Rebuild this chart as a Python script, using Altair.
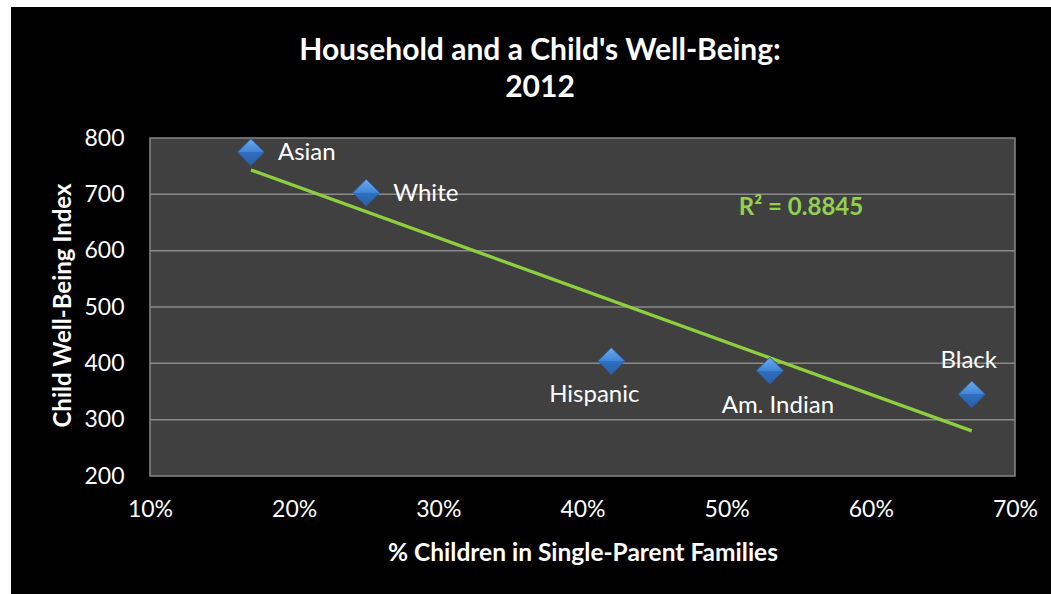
import altair as alt
import pandas as pd

# Data
groups = ["Asian", "White", "Hispanic", "Am. Indian", "Black"]
pct_single_parent = [0.17, 0.25, 0.42, 0.53, 0.67]
wellbeing_index = [775, 703, 404, 387, 345]
y_ticks = [200, 300, 400, 500, 600, 700, 800]
x_ticks = [0.1, 0.2, 0.3, 0.4, 0.5, 0.6, 0.7]
r2_text = "R² = 0.8845"
title_lines = ["Household and a Child's Well-Being:", "2012"]

df = pd.DataFrame({"group": groups, "pct": pct_single_parent, "idx": wellbeing_index})
grid_df = pd.DataFrame({"tick": y_ticks[1:-1]})

FONT = "Lato"
W, H = 865, 338
PAD_L, PAD_T = 150, 138

xscale = alt.Scale(domain=[0.1, 0.7], nice=False, zero=False)
yscale = alt.Scale(domain=[200, 800], nice=False, zero=False)

# background black panel (decorative)
black_bg = alt.Chart(pd.DataFrame({"a": [0]})).mark_rect(color="black").encode(
    x=alt.value(11 - PAD_L), x2=alt.value(1051 - PAD_L + 5),
    y=alt.value(7 - PAD_T), y2=alt.value(594 - PAD_T + 5),
)
plot_bg = alt.Chart(pd.DataFrame({"a": [0]})).mark_rect(
    color="#404040", stroke="#868686", strokeWidth=1.5
).encode(x=alt.value(0), x2=alt.value(W), y=alt.value(0), y2=alt.value(H))

grid = alt.Chart(grid_df).mark_rule(color="#8a8a8a", strokeWidth=1.5).encode(
    y=alt.Y("tick:Q", scale=yscale),
    x=alt.value(0), x2=alt.value(W),
)

base = alt.Chart(df)

axis_x = alt.Axis(
    values=x_ticks, format=".0%", grid=False, ticks=False, domain=False, zindex=2,
    labelFlush=False, labelOverlap=False,
    labelFont=FONT, labelFontSize=23, labelColor="white", labelPadding=22,
    title="% Children in Single-Parent Families", titleFont=FONT, titleFontSize=24.5,
    titleFontWeight="bold", titleColor="white", titleX=W / 2, titleY=77,
    titleAnchor="middle", titleBaseline="middle",
)
axis_y = alt.Axis(
    values=y_ticks, grid=False, ticks=False, domain=False, zindex=2,
    labelFlush=False, labelOverlap=False,
    labelFont=FONT, labelFontSize=23, labelColor="white", labelPadding=26,
    title="Child Well-Being Index", titleFont=FONT, titleFontSize=24,
    titleFontWeight="bold", titleColor="white", titleX=-87, titleY=H / 2 - 2,
    titleAngle=270, titleAnchor="middle", titleBaseline="middle",
)

trend = base.transform_regression("pct", "idx").mark_line(
    color="#8dcf3f", strokeWidth=3.3
).encode(
    x=alt.X("pct:Q", scale=xscale, axis=axis_x),
    y=alt.Y("idx:Q", scale=yscale, axis=axis_y),
)

diamond_fill = alt.LinearGradient(
    gradient="linear", x1=0, y1=0, x2=0, y2=1,
    stops=[
        alt.GradientStop(offset=0, color="#6fa9ea"),
        alt.GradientStop(offset=0.5, color="#3f85d6"),
        alt.GradientStop(offset=0.5, color="#2f6fc2"),
        alt.GradientStop(offset=1, color="#2a5fa6"),
    ],
)

points = base.mark_point(
    shape="diamond", filled=True, size=720, fill=diamond_fill, stroke="#2b5e9e",
    strokeWidth=1, opacity=1
).encode(x=alt.X("pct:Q", scale=xscale), y=alt.Y("idx:Q", scale=yscale))

def label(names, **kw):
    return base.transform_filter(
        alt.FieldOneOfPredicate(field="group", oneOf=names)
    ).mark_text(font=FONT, fontSize=24, color="white", baseline="middle", **kw).encode(
        x=alt.X("pct:Q", scale=xscale), y=alt.Y("idx:Q", scale=yscale), text="group:N"
    )

lab_right = label(["Asian", "White"], align="left", dx=27, dy=1)
lab_hisp = label(["Hispanic"], align="center", dx=-17, dy=34)
lab_ami = label(["Am. Indian"], align="center", dx=8, dy=35)
lab_black = label(["Black"], align="center", dx=-3, dy=-33)

r2 = alt.Chart(pd.DataFrame({"t": [r2_text]})).mark_text(
    font=FONT, fontSize=24, fontWeight="bold", color="#92d050", align="center", baseline="middle"
).encode(x=alt.value(801 - PAD_L), y=alt.value(208 - PAD_T), text="t:N")

title_df = pd.DataFrame({"t": title_lines, "line": [0, 1]})
title1 = alt.Chart(title_df).transform_filter("datum.line == 0").mark_text(
    font=FONT, fontSize=30, fontWeight="bold", color="white", align="center", baseline="middle"
).encode(x=alt.value(540 - PAD_L), y=alt.value(51 - PAD_T), text="t:N")
title2 = alt.Chart(title_df).transform_filter("datum.line == 1").mark_text(
    font=FONT, fontSize=30, fontWeight="bold", color="white", align="center", baseline="middle"
).encode(x=alt.value(540 - PAD_L), y=alt.value(88 - PAD_T), text="t:N")

chart = alt.layer(
    black_bg, plot_bg, grid, trend, points, lab_right, lab_hisp, lab_ami, lab_black, r2,
    title1, title2
).properties(
    width=W, height=H,
    padding={"left": PAD_L, "top": PAD_T, "right": 1051 - PAD_L - W, "bottom": 594 - PAD_T - H},
    autosize=alt.AutoSizeParams(type="none"),
    background="white",
).configure_view(stroke=None)

chart.save("out.html", embed_options={"renderer": "svg", "actions": False})
